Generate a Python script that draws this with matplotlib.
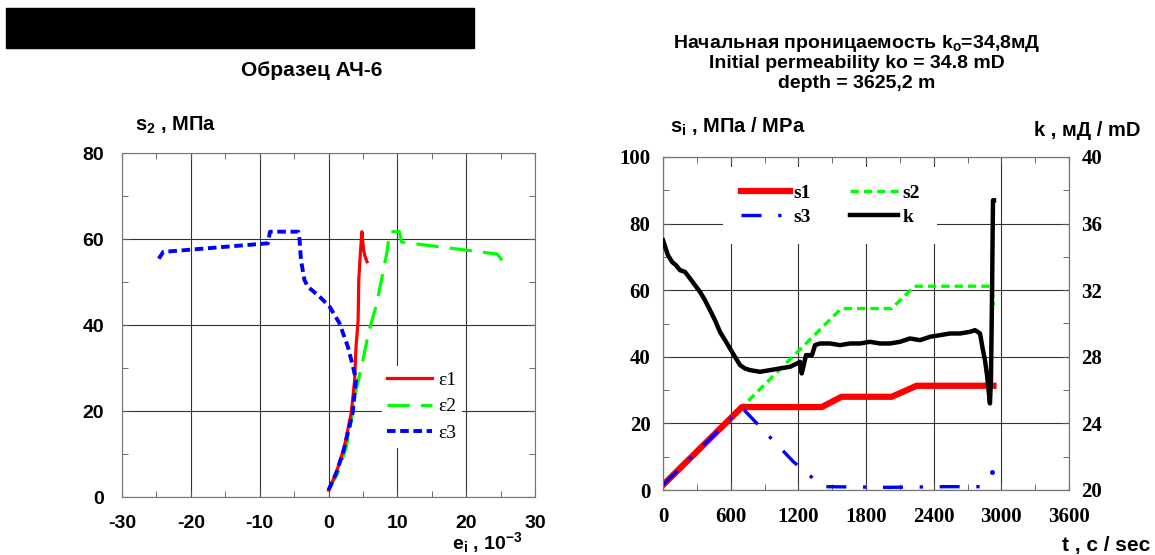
import matplotlib
matplotlib.use("Agg")
import matplotlib.pyplot as plt
from matplotlib.patches import Rectangle
from matplotlib.ticker import MultipleLocator

plt.rcParams['font.family'] = ['Liberation Sans', 'DejaVu Sans']
plt.rcParams['mathtext.fontset'] = 'custom'
plt.rcParams['mathtext.rm'] = 'Liberation Sans:bold'
plt.rcParams['mathtext.bf'] = 'Liberation Sans:bold'
plt.rcParams['mathtext.it'] = 'Liberation Sans:bold'
plt.rcParams['axes.unicode_minus'] = False

#%% data, left chart: s2 (MPa) vs strain e_i (1e-3)
e1_x = [0, 1.1, 2.3, 3.3, 3.8, 4.0, 4.3, 4.4, 4.6, 4.85, 5.1, 5.3, 5.6]
e1_y = [1.6, 5.5, 11.7, 19.5, 27.2, 35, 41, 50.5, 56, 61.7, 57.4, 56, 54.7]

e2_x = [0, 1.35, 2.6, 3.5, 4.0, 4.8, 5.9, 6.9, 7.6, 8.5, 8.9, 10.3, 10.6, 24.5, 25.5]
e2_y = [1.6, 5.5, 11.7, 19.5, 24.9, 30.3, 38.8, 44.3, 49.7, 57, 61.7, 61.7, 59.3, 56.5, 54.5]

e3_x = [0, 1.1, 2.1, 2.8, 3.5, 4.0, 3.5, 2.8, 1.6, 0.15, -1.3, -3.0, -3.5, -4.0, -4.2, -4.4,
        -8.5, -8.8, -24.0, -24.8]
e3_y = [1.6, 5.5, 10.2, 14.8, 19.5, 27.2, 30.7, 35, 40.4, 44.3, 46.6, 48.9, 50.5, 55.1, 59.8,
        61.7, 61.7, 59, 57, 55.1]

#%% data, right chart: stresses (MPa) and permeability k (mD) vs time (s)
s1_t = [0, 700, 1407, 1584, 2028, 2249, 2930]
s1_v = [1.5, 24.9, 24.9, 28.0, 28.0, 31.3, 31.3]

s2_t = [0, 700, 1580, 2028, 2230, 2915, 2925, 2930]
s2_v = [1.5, 24.9, 54.5, 54.5, 61.2, 61.2, 58, 55.5]

s3_t = [0, 700, 1156, 1348, 1436, 2000, 2500, 2914]
s3_v = [1.5, 24.7, 8.5, 3, 1, 0.8, 1, 1]
s3_dot_t = [2914]
s3_dot_v = [5.5]

k_t = [0, 44, 80, 115, 151, 195, 240, 284, 328, 372, 417, 461, 505, 550, 594, 638, 683, 727,
       771, 860, 949, 1037, 1126, 1188, 1215, 1230, 1241, 1268, 1321, 1348, 1392, 1481, 1569,
       1658, 1747, 1835, 1924, 2013, 2101, 2190, 2279, 2367, 2456, 2545, 2633, 2722, 2767,
       2811, 2837, 2855, 2873, 2891, 2899, 2908, 2917, 2926, 2935]
k_v = [35.0, 34.1, 33.7, 33.5, 33.2, 33.1, 32.7, 32.3, 31.9, 31.4, 30.8, 30.2, 29.5, 29.0,
       28.5, 28.0, 27.5, 27.3, 27.2, 27.1, 27.2, 27.3, 27.4, 27.6, 27.7, 27.0, 27.3, 28.1, 28.1,
       28.7, 28.8, 28.8, 28.7, 28.8, 28.8, 28.9, 28.8, 28.8, 28.9, 29.1, 29.0, 29.2, 29.3, 29.4,
       29.4, 29.5, 29.6, 29.4, 28.4, 27.8, 26.9, 25.7, 25.2, 26.6, 31.4, 37.4, 37.4]

W, H = 1155, 555
fig = plt.figure(figsize=(W / 100, H / 100), dpi=100)


def fx(px):
    return px / W


def fy(py):
    return 1 - py / H


def box(l, t, r, b):
    return [fx(l), fy(b), fx(r) - fx(l), fy(t) - fy(b)]


grid_kw = dict(color='#333333', lw=0.8)

# black bar on top left
fig.patches.append(Rectangle((fx(6), fy(48)), fx(474) - fx(6), fy(8) - fy(48),
                             transform=fig.transFigure, color='black', zorder=5))

#%% left chart
ax = fig.add_axes(box(122, 153, 535, 497))
ax.plot(e1_x, e1_y, color='#ff0000', lw=2.3, label='ε1', zorder=4)
ax.plot(e2_x, e2_y, color='#00ff00', lw=2.3, dashes=(7, 3.5), label='ε2', zorder=3)
ax.plot(e3_x, e3_y, color='#0000ff', lw=2.8, dashes=(2.2, 1.2), label='ε3', zorder=5)
ax.set_xlim(-30, 30)
ax.set_ylim(0, 80)
ax.xaxis.set_major_locator(MultipleLocator(10))
ax.xaxis.set_minor_locator(MultipleLocator(5))
ax.yaxis.set_major_locator(MultipleLocator(20))
ax.yaxis.set_minor_locator(MultipleLocator(10))
ax.tick_params(which='both', direction='in', top=True, right=True, colors='#555555',
               labelcolor='black', labelsize=14)
ax.tick_params(axis='x', pad=13)
ax.tick_params(axis='y', pad=13)
ax.tick_params(which='major', length=5)
ax.tick_params(which='minor', length=4)
for lab in ax.get_xticklabels() + ax.get_yticklabels():
    lab.set_fontweight('bold')
ax.grid(True, which='major', **grid_kw)
for sp in ax.spines.values():
    sp.set_color('#777777')
leg = ax.legend(loc='upper left', bbox_to_anchor=(0.605, 0.41), frameon=True,
                fancybox=False, edgecolor='none', facecolor='white', framealpha=1,
                prop={'family': 'Liberation Serif', 'size': 14}, handlelength=2.3,
                labelspacing=0.45, handletextpad=0.3, borderpad=0.3)
leg.set_zorder(6)

fig.text(fx(312), fy(70), 'Образец АЧ-6', ha='center', va='center', fontsize=15,
         fontweight='bold')
fig.text(fx(135), fy(125), r'$\mathbf{s_2}$ , МПа', ha='left', va='center', fontsize=14.5,
         fontweight='bold')
fig.text(fx(452), fy(543), r'$\mathbf{e_i}$ , 10$^{\mathbf{-3}}$', ha='left', va='center',
         fontsize=14, fontweight='bold')

#%% right chart
ax2 = fig.add_axes(box(663, 157, 1069, 490))
ax2.plot(s1_t, s1_v, color='#ff0000', lw=4.5, label='s1', zorder=3)
ax2.plot(s2_t, s2_v, color='#00ff00', lw=2.4, dashes=(2.5, 1.5), label='s2', zorder=2)
ax2.plot(s3_t, s3_v, color='#0000ff', lw=2.4, dashes=(6, 5, 1, 5), label='s3', zorder=4)
ax2.plot(s3_dot_t, s3_dot_v, 'o', color='#0000ff', ms=2.5, zorder=4)
ax2.plot([], [], color='black', lw=3.2, label='k')
ax2.set_xlim(0, 3600)
ax2.set_ylim(0, 100)
ax2.xaxis.set_major_locator(MultipleLocator(600))
ax2.xaxis.set_minor_locator(MultipleLocator(300))
ax2.yaxis.set_major_locator(MultipleLocator(20))
ax2.yaxis.set_minor_locator(MultipleLocator(10))
ax2.grid(True, which='major', **grid_kw)

ax3 = ax2.twinx()
ax3.plot(k_t, k_v, color='black', lw=3.2, zorder=5)
ax3.set_ylim(20, 40)
ax3.yaxis.set_major_locator(MultipleLocator(4))
ax3.yaxis.set_minor_locator(MultipleLocator(2))

for a in (ax2, ax3):
    a.tick_params(which='both', direction='in', colors='#555555', labelcolor='black',
                  labelsize=15, pad=9)
    a.tick_params(which='major', length=5)
    a.tick_params(which='minor', length=4)
    for sp in a.spines.values():
        sp.set_color('#777777')
ax2.tick_params(which='both', top=True, right=False)
ax2.tick_params(axis='x', pad=12)
ax3.tick_params(which='both', right=True, left=False)
for lab in ax2.get_xticklabels() + ax2.get_yticklabels() + ax3.get_yticklabels():
    lab.set_fontfamily('Liberation Serif')
    lab.set_fontweight('bold')

# legend order: row 1 s1, s2; row 2 s3, k
h, l = ax2.get_legend_handles_labels()
order = [0, 2, 1, 3]
leg2 = ax3.legend([h[i] for i in order], [l[i] for i in order], loc='upper left',
                  bbox_to_anchor=(0.125, 1.0), ncol=2, frameon=True,
                  fancybox=False, edgecolor='none', facecolor='white', framealpha=1,
                  prop={'family': 'Liberation Serif', 'size': 14, 'weight': 'bold'},
                  handlelength=2.5, columnspacing=2.0, labelspacing=0.35, handletextpad=0.2,
                  borderpad=0.9)
leg2.set_zorder(10)

fig.text(fx(857), fy(44), r'Начальная проницаемость k$_\mathbf{o}$=34,8мД', ha='center',
         va='center', fontsize=14, fontweight='bold')
fig.text(fx(857), fy(64), 'Initial permeability ko = 34.8 mD', ha='center', va='center',
         fontsize=14, fontweight='bold')
fig.text(fx(857), fy(84), 'depth = 3625,2 m', ha='center', va='center', fontsize=14,
         fontweight='bold')
fig.text(fx(670), fy(127), r'$\mathbf{s_i}$ , МПа / МРа', ha='left', va='center',
         fontsize=14.5, fontweight='bold')
fig.text(fx(1140), fy(130), 'k , мД / mD', ha='right', va='center', fontsize=14.5,
         fontweight='bold')
fig.text(fx(1150), fy(545), 't , c / sec', ha='right', va='center', fontsize=15,
         fontweight='bold')

fig.savefig('out.png', dpi=100)
